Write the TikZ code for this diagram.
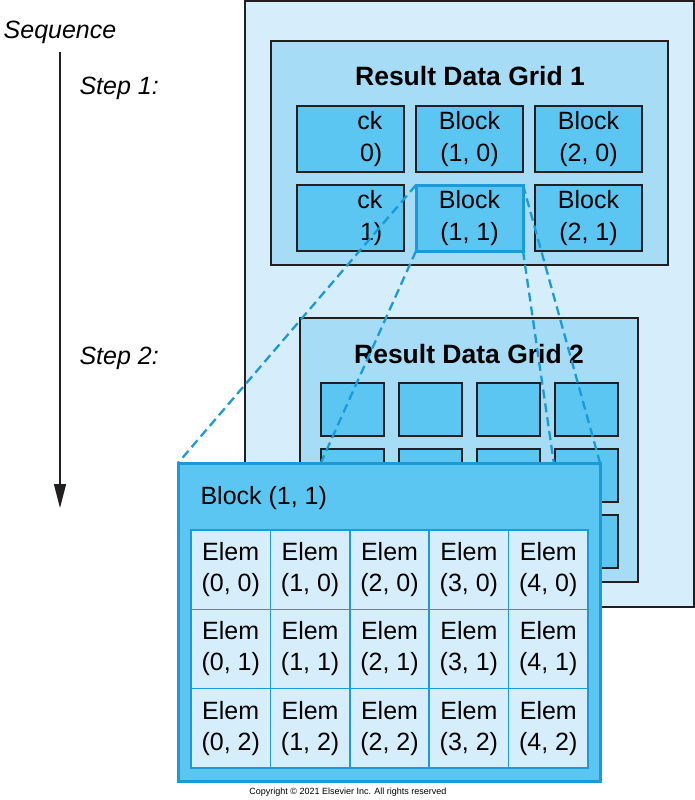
\documentclass[tikz,border=0pt]{standalone}
\usepackage{fontspec}
\setmainfont{Liberation Sans}
\usetikzlibrary{arrows.meta}
\definecolor{panelblue}{HTML}{D6EEFB}
\definecolor{gridblue}{HTML}{A6DCF6}
\definecolor{blockblue}{HTML}{5BC6F2}
\definecolor{lineblue}{HTML}{1B9AD7}
\definecolor{darkline}{HTML}{231F20}
\pgfdeclarelayer{front}
\pgfsetlayers{main,front}

\begin{document}
\begin{tikzpicture}[
    x=1pt, y=-1pt,
    box/.style={rectangle, draw=darkline, line width=1.3pt, inner sep=0pt, outer sep=0pt, align=center},
    panel/.style={box, fill=panelblue, minimum width=449pt, minimum height=606pt},
    datagrid/.style={box, fill=gridblue},
    title/.style={font=\bfseries\fontsize{26.5}{30}\selectfont},
    block/.style={box, fill=blockblue, minimum width=107pt, minimum height=66pt, font=\fontsize{25}{32}\selectfont},
    chosen/.style={block, draw=lineblue, line width=3pt},
    tile/.style={box, fill=blockblue, minimum width=63pt, minimum height=53pt},
    zoomblock/.style={box, fill=blockblue, draw=lineblue, line width=3pt, minimum width=422pt, minimum height=318pt},
    elem/.style={box, fill=panelblue, draw=lineblue, line width=1.5pt, minimum width=79.4pt, minimum height=79.3pt, font=\fontsize{25}{31}\selectfont},
    label/.style={font=\itshape\fontsize{25}{30}\selectfont},
    zoomline/.style={draw=lineblue, line width=2.3pt, dash pattern=on 9pt off 5pt},
    arrow/.style={-{Triangle[length=24pt, width=12pt]}, line width=1.5pt, draw=darkline}
]
\useasboundingbox (0,0) rectangle (695,800);

% Sequence
\node[label] (seq) at (60,32) {Sequence};
\coordinate (seqtop) at (60,52);
\coordinate (seqend) at (60,508);
\draw[arrow] (seqtop) -- (seqend);
\node[label, anchor=west] (step1) at (76,88) {Step 1:};
\node[label, anchor=west] (step2) at (76,358) {Step 2:};

% Outer panel
\node[panel] (outer) at (469.5,304) {};

% Result Data Grid 1
\node[datagrid, minimum width=397pt, minimum height=224pt] (grid1) at (469.5,153) {};
\node[title] (title1) at (470,76) {Result Data Grid 1};
\node[block] (b00) at (350.5,139) {};
\node[block] (b10) at (469.5,139) {Block\\(1, 0)};
\node[block] (b20) at (588.5,139) {Block\\(2, 0)};
\node[block] (b01) at (350.5,218) {};
\node[chosen] (b11) at (469.5,218) {Block\\(1, 1)};
\node[block] (b21) at (588.5,218) {Block\\(2, 1)};
\node[align=right, anchor=east, inner sep=0pt, font=\fontsize{25}{32}\selectfont] (cut0) at (b00.center) [xshift=32pt] {ck\\0)};
\node[align=right, anchor=east, inner sep=0pt, font=\fontsize{25}{32}\selectfont] (cut1) at (b01.center) [xshift=32pt] {ck\\1)};

% Result Data Grid 2
\node[datagrid, minimum width=338pt, minimum height=264pt] (grid2) at (469,450) {};
\node[title] (title2) at (469,354) {Result Data Grid 2};
\node[tile] (t00) at (352.5,409.5) {};
\node[tile] (t10) at (430.5,409.5) {};
\node[tile] (t20) at (508.5,409.5) {};
\node[tile] (t30) at (586.5,409.5) {};
\node[tile] (t01) at (352.5,475.5) {};
\node[tile] (t11) at (430.5,475.5) {};
\node[tile] (t21) at (508.5,475.5) {};
\node[tile] (t31) at (586.5,475.5) {};
\node[tile] (t02) at (352.5,541.5) {};
\node[tile] (t12) at (430.5,541.5) {};
\node[tile] (t22) at (508.5,541.5) {};
\node[tile] (t32) at (586.5,541.5) {};

% Zoomed block
\begin{pgfonlayer}{front}
\node[zoomblock] (zoom) at (389,622) {};
\node[anchor=west, font=\fontsize{25}{30}\selectfont] (zoomtitle) at (197,498) {Block (1, 1)};
\node[elem] (e00) at (230.7,569.7) {Elem\\(0, 0)};
\node[elem] (e10) at (310.1,569.7) {Elem\\(1, 0)};
\node[elem] (e20) at (389.5,569.7) {Elem\\(2, 0)};
\node[elem] (e30) at (468.9,569.7) {Elem\\(3, 0)};
\node[elem] (e40) at (548.3,569.7) {Elem\\(4, 0)};
\node[elem] (e01) at (230.7,649) {Elem\\(0, 1)};
\node[elem] (e11) at (310.1,649) {Elem\\(1, 1)};
\node[elem] (e21) at (389.5,649) {Elem\\(2, 1)};
\node[elem] (e31) at (468.9,649) {Elem\\(3, 1)};
\node[elem] (e41) at (548.3,649) {Elem\\(4, 1)};
\node[elem] (e02) at (230.7,728.3) {Elem\\(0, 2)};
\node[elem] (e12) at (310.1,728.3) {Elem\\(1, 2)};
\node[elem] (e22) at (389.5,728.3) {Elem\\(2, 2)};
\node[elem] (e32) at (468.9,728.3) {Elem\\(3, 2)};
\node[elem] (e42) at (548.3,728.3) {Elem\\(4, 2)};
\end{pgfonlayer}

% Zoom lines
\draw[zoomline] (b11.north west) -- (zoom.north west);
\draw[zoomline] (b11.south west) -- (zoom.south west);
\draw[zoomline] (b11.north east) -- (zoom.north east);
\draw[zoomline] (b11.south east) -- (zoom.south east);

% Copyright
\node[font=\fontsize{9}{10}\selectfont] (copy) at (348,792) {Copyright © 2021 Elsevier Inc. All rights reserved};

\end{tikzpicture}
\end{document}
